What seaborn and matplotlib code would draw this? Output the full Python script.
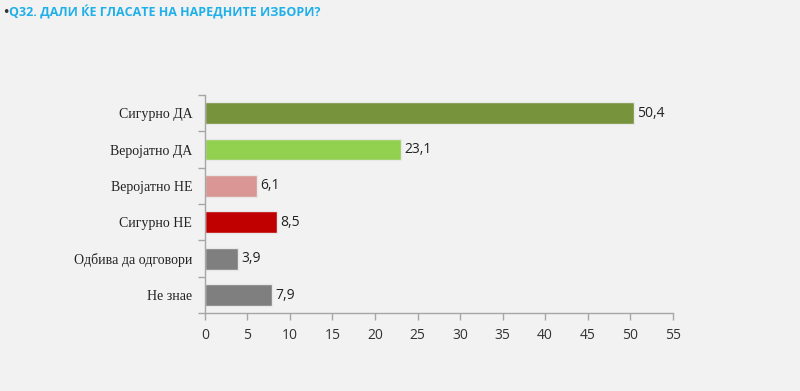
import numpy as np
import pandas as pd
import matplotlib
matplotlib.use("Agg")
import matplotlib.pyplot as plt
import seaborn as sns

answers = ["Сигурно ДА", "Веројатно ДА", "Веројатно НЕ", "Сигурно НЕ", "Одбива да одговори", "Не знае"]
values = [50.4, 23.1, 6.1, 8.5, 3.9, 7.9]
colors = ["#77933c", "#92d050", "#d99694", "#c00000", "#7f7f7f", "#7f7f7f"]
xticks = list(range(0, 60, 5))

df = pd.DataFrame({"answer": answers, "value": values})

sns.set_style("white", {"xtick.bottom": True, "ytick.left": True})
bg = "#f2f2f2"
fig = plt.figure(figsize=(8, 3.91), dpi=100, facecolor=bg)
ax = fig.add_axes([0.256, 0.199, 0.585, 0.558])
ax.set_facecolor(bg)

sns.barplot(data=df, y="answer", x="value", hue="answer", palette=colors,
            saturation=1, legend=False, width=0.6, edgecolor="#e8e8e8",
            linewidth=1, ax=ax)

for i, v in enumerate(values):
    ax.text(v + 0.4, i, f"{v:.1f}".replace(".", ","), va="center", ha="left",
            fontsize=10, family="Open Sans", color="#222222")

ax.set_xlim(0, 55)
ax.set_ylim(5.5, -0.5)
ax.set_xticks(xticks)
ax.set_xticklabels([str(t) for t in xticks], family="Open Sans", fontsize=10, color="#333333")
ax.set_yticks(range(len(answers)))
ax.set_yticklabels(answers, family="Liberation Serif", fontsize=10, color="#222222")
ax.set_yticks(np.arange(-0.5, 6, 1), minor=True)
ax.tick_params(axis="y", which="major", length=0, pad=9)
ax.tick_params(axis="y", which="minor", left=True, length=5, width=1,
               color="#a6a6a6", direction="out")
ax.tick_params(axis="x", bottom=True, length=5, width=1, color="#a6a6a6",
               direction="out", pad=6)
ax.set_xlabel("")
ax.set_ylabel("")

for s in ["top", "right"]:
    ax.spines[s].set_visible(False)
for s in ["left", "bottom"]:
    ax.spines[s].set_color("#a6a6a6")
    ax.spines[s].set_linewidth(1)

fig.text(0.003, 0.967, "•", fontsize=9, color="#333333", va="center")
fig.text(0.011, 0.967, "Q32. ДАЛИ ЌЕ ГЛАСАТЕ НА НАРЕДНИТЕ ИЗБОРИ?", fontsize=9,
         fontweight="bold", family="Open Sans", color="#1fb0ea", va="center")

fig.savefig("out.png", dpi=100, facecolor=bg)
